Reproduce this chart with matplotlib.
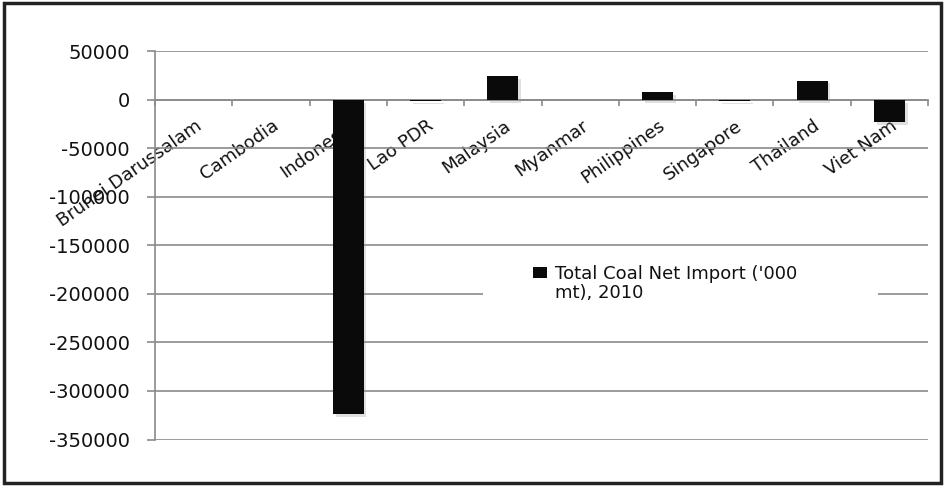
import matplotlib
matplotlib.use("Agg")
import matplotlib.pyplot as plt
import matplotlib.patheffects as pe
from matplotlib.patches import Rectangle
from matplotlib.transforms import ScaledTranslation
import numpy as np

countries = ["Brunei Darussalam", "Cambodia", "Indonesia", "Lao PDR", "Malaysia",
             "Myanmar", "Philippines", "Singapore", "Thailand", "Viet Nam"]
net_import = [0, -300, -324000, -1500, 24800, 0, 8000, -1500, 20000, -22800]
series_label = "Total Coal Net Import ('000\nmt), 2010"
y_ticks = [50000, 0, -50000, -100000, -150000, -200000, -250000, -300000, -350000]

plt.rcParams["font.family"] = ["DejaVu Sans"]
W, H, DPI = 945, 487, 100
fig = plt.figure(figsize=(W / DPI, H / DPI), dpi=DPI)
fig.patch.set_facecolor("white")

left, right, top, bottom = 155, 928, 51.5, 439.5
ax = fig.add_axes([left / W, 1 - bottom / H, (right - left) / W, (bottom - top) / H])

x = np.arange(len(countries))
bars = ax.bar(x, net_import, width=0.4, color="#0a0a0a", zorder=3)
for b in bars:
    b.set_path_effects([pe.SimplePatchShadow(offset=(2, -2), shadow_rgbFace="#999999", alpha=0.3),
                        pe.Normal()])

ax.set_xlim(-0.5, len(countries) - 0.5)
ax.set_ylim(-350000, 50000)
ax.set_yticks(y_ticks)
ax.set_yticklabels([str(v) for v in y_ticks], fontsize=14, color="#111111")
ax.yaxis.grid(True, color="#8a8a8a", linewidth=1.2, zorder=0)
ax.set_axisbelow(True)

for s in ["top", "right"]:
    ax.spines[s].set_visible(False)
ax.spines["left"].set_color("#8a8a8a")
ax.spines["left"].set_linewidth(1.2)
ax.spines["bottom"].set_position(("data", 0))
ax.spines["bottom"].set_color("#8a8a8a")
ax.spines["bottom"].set_linewidth(1.2)
ax.tick_params(axis="y", length=6, width=1.2, color="#8a8a8a", pad=12)

# category labels at centres, tick marks at category boundaries
ax.set_xticks(x)
ax.set_xticks(np.arange(-0.5, len(countries)), minor=True)
ax.tick_params(axis="x", which="major", length=0, pad=0)
ax.tick_params(axis="x", which="minor", length=4, width=1.2, color="#8a8a8a", direction="out")
ax.set_xticklabels(countries, fontsize=13, color="#111111", rotation=35,
                   ha="right", va="center", rotation_mode="anchor")
shift = ScaledTranslation(6 / DPI, -24 / DPI, fig.dpi_scale_trans)
for lab in ax.get_xticklabels():
    lab.set_transform(lab.get_transform() + shift)

# series key
fig.patches.append(Rectangle((483 / W, 1 - 312 / H), (878 - 483) / W, 60 / H,
                             transform=fig.transFigure, facecolor="white",
                             edgecolor="none", zorder=5))
fig.patches.append(Rectangle((533 / W, 1 - 278 / H), 14 / W, 11 / H,
                             transform=fig.transFigure, facecolor="#0a0a0a",
                             edgecolor="none", zorder=6))
fig.text(555 / W, 1 - 265 / H, series_label, fontsize=13, color="#111111",
         ha="left", va="top", linespacing=1.05, zorder=7)

# outer frame
fig.patches.append(Rectangle((4 / W, 4 / H), (941 - 4) / W, (484 - 4) / H,
                             transform=fig.transFigure, facecolor="none",
                             edgecolor="#222222", linewidth=2.5, zorder=10))

fig.savefig("out.png", dpi=DPI)
